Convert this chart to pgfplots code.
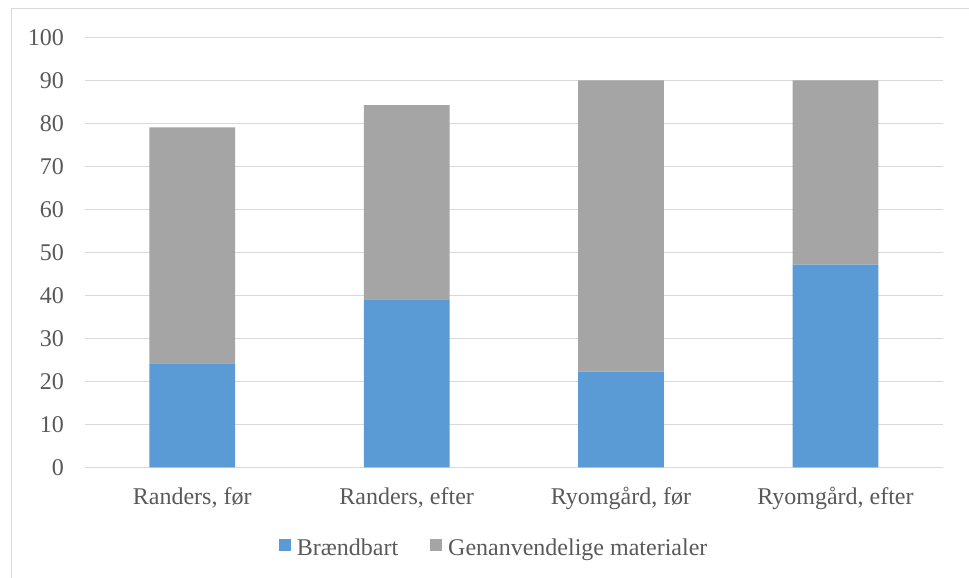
\documentclass[border=0pt]{standalone}
\usepackage{fontspec}
\setmainfont{Liberation Serif}
\usepackage{pgfplots}
\pgfplotsset{compat=1.18}

\definecolor{blaa}{HTML}{5B9BD5}
\definecolor{graa}{HTML}{A5A5A5}
\definecolor{gitter}{HTML}{D9D9D9}
\definecolor{tekst}{HTML}{595959}

\begin{document}
\begin{tikzpicture}[x=1pt,y=1pt]
\useasboundingbox (0,0) rectangle (969,578);
\draw[gitter, line width=1.3pt] (11.7,-10) -- (11.7,569.5) -- (980,569.5);
\begin{axis}[
  at={(85pt,110.5pt)}, anchor=south west,
  scale only axis, width=857.7pt, height=430pt,
  ybar stacked, bar width=0.4,
  xmin=-0.5, xmax=3.5, ymin=0, ymax=100,
  xtick=data,
  xticklabels={{Randers, før},{Randers, efter},{Ryomgård, før},{Ryomgård, efter}},
  ytick distance=10,
  ymajorgrids, grid style={gitter, line width=1.3pt},
  axis lines*=left,
  x axis line style={gitter, line width=1.3pt},
  y axis line style={draw=none},
  tick style={draw=none},
  /pgf/number format/assume math mode=true,
  ticklabel style={font=\fontsize{24}{28}\selectfont, text=tekst, inner sep=0pt},
  yticklabel style={anchor=east, xshift=-21pt},
  xticklabel style={anchor=base, yshift=-37pt},
  legend style={at={(axis description cs:0.477,-0.188)}, anchor=center,
    draw=none, fill=none, font=\fontsize{24}{28}\selectfont, text=tekst,
    legend columns=-1, inner sep=0pt,
    /tikz/every odd column/.append style={column sep=4pt},
    /tikz/every even column/.append style={column sep=30pt}},
  legend image code/.code={\fill[#1] (0pt,-2.5pt) rectangle (12pt,9.5pt);},
  legend cell align=left,
]
\addplot[fill=blaa, draw=none] coordinates {(0,24.2) (1,39.1) (2,22.3) (3,47.2)};
\addplot[fill=graa, draw=none] coordinates {(0,54.9) (1,45.2) (2,67.7) (3,42.8)};
\legend{Brændbart, Genanvendelige materialer}
\end{axis}
\end{tikzpicture}
\end{document}
